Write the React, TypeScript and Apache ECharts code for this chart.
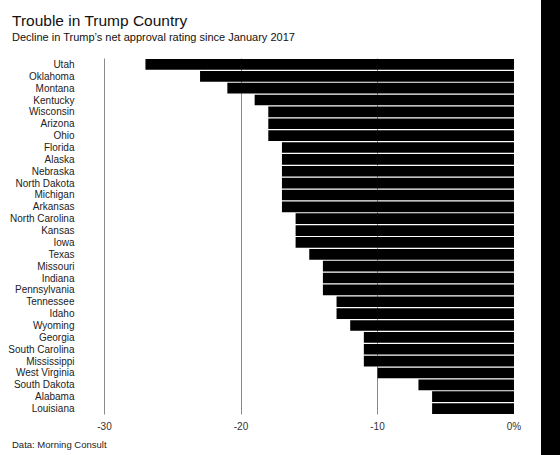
import React, { useEffect, useRef } from "react";
import * as echarts from "echarts";

const states = [
  "Utah", "Oklahoma", "Montana", "Kentucky", "Wisconsin", "Arizona", "Ohio",
  "Florida", "Alaska", "Nebraska", "North Dakota", "Michigan", "Arkansas",
  "North Carolina", "Kansas", "Iowa", "Texas", "Missouri", "Indiana",
  "Pennsylvania", "Tennessee", "Idaho", "Wyoming", "Georgia", "South Carolina",
  "Mississippi", "West Virginia", "South Dakota", "Alabama", "Louisiana",
];
const declines = [
  -27, -23, -21, -19, -18, -18, -18,
  -17, -17, -17, -17, -17, -17,
  -16, -16, -16, -15, -14, -14,
  -14, -13, -13, -12, -11, -11,
  -11, -10, -7, -6, -6,
];
const tickValues = [-30, -20, -10, 0];
const tickLabels = ["-30", "-20", "-10", "0%"];

const titleText = "Trouble in Trump Country";
const subtitleText = "Decline in Trump\u2019s net approval rating since January 2017";
const sourceText = "Data: Morning Consult";

const FONT = "'Liberation Sans', Arial, Helvetica, sans-serif";

export default function App() {
  const ref = useRef<HTMLDivElement>(null);
  useEffect(() => {
    document.body.style.margin = "0";
    if (!ref.current) return;
    const chart = echarts.init(ref.current, null, { renderer: "svg" });
    chart.setOption({
      animation: false,
      backgroundColor: "#ffffff",
      textStyle: { fontFamily: FONT },
      grid: { left: 104.5, right: 46, top: 58.5, bottom: 40.5, containLabel: false },
      xAxis: {
        type: "value",
        min: -30,
        max: 0,
        interval: 10,
        axisLine: { show: false },
        axisTick: { show: false },
        splitLine: {
          show: true,
          lineStyle: { color: ["#8a8a8a", "#8a8a8a", "#8a8a8a", "transparent"], width: 1 },
        },
        axisLabel: {
          color: "#333",
          fontSize: 10,
          fontFamily: FONT,
          margin: 7,
          formatter: (v: number) => {
            const i = tickValues.indexOf(v);
            return i >= 0 ? tickLabels[i] : "";
          },
        },
      },
      yAxis: {
        type: "category",
        data: states,
        inverse: true,
        axisLine: { show: false },
        axisTick: { show: false },
        splitLine: { show: false },
        axisLabel: {
          interval: 0,
          color: "#222",
          fontSize: 10,
          fontFamily: FONT,
          margin: 30,
        },
      },
      series: [
        {
          type: "bar",
          data: declines,
          barCategoryGap: "10%",
          itemStyle: { color: "#000000" },
          z: 3,
        },
      ],
      graphic: [
        {
          type: "text",
          left: 12,
          top: 12,
          style: { text: titleText, fontSize: 15.5, fill: "#111", fontFamily: FONT },
        },
        {
          type: "text",
          left: 12,
          top: 31,
          style: { text: subtitleText, fontSize: 11, fill: "#111", fontFamily: FONT },
        },
        {
          type: "text",
          left: 12,
          top: 439,
          style: { text: sourceText, fontSize: 9.5, fill: "#222", fontFamily: FONT },
        },
        {
          type: "rect",
          shape: { x: 541, y: 0, width: 19, height: 455 },
          style: { fill: "#000" },
        },
      ],
    });
    return () => chart.dispose();
  }, []);
  return <div ref={ref} style={{ width: 560, height: 455 }} />;
}
